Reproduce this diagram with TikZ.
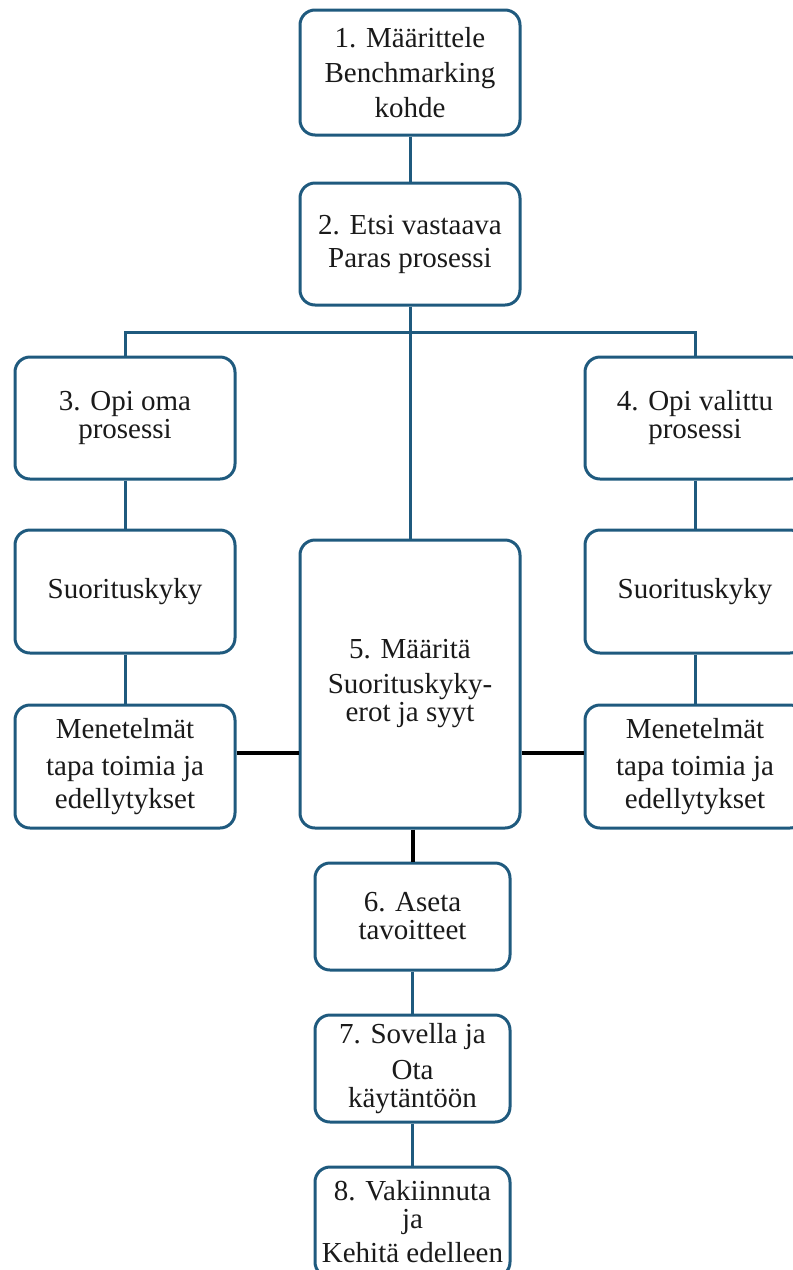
\documentclass[tikz,border=0pt]{standalone}
\usepackage{fontspec}
\setmainfont{Liberation Serif}
\definecolor{boxblue}{HTML}{1F5A7E}
\definecolor{txt}{HTML}{1A1A1A}
\begin{document}
\begin{tikzpicture}[x=1pt,y=-1pt,
  box/.style={draw=boxblue,line width=3pt,rounded corners=15pt,fill=white,
    minimum width=220pt,align=center,text=txt,inner sep=0pt,
    font=\fontsize{29}{35}\selectfont},
  sbox/.style={box,minimum width=195pt},
  link/.style={draw=boxblue,line width=3pt},
  blink/.style={draw=black,line width=4pt}]
\useasboundingbox (0,0) rectangle (793,1270);
\clip (0,0) rectangle (793,1270);
\node[box,minimum height=125pt] (b1) at (410,72.5) {1. Määrittele\\Benchmarking\\kohde};
\node[box,minimum height=122pt] (b2) at (410,244) {2. Etsi vastaava\\[-2pt]Paras prosessi};
\node[box,minimum height=122pt] (b3) at (125,418) {3. Opi oma\\[-7pt]prosessi};
\node[box,minimum height=122pt] (b4) at (695,418) {4. Opi valittu\\[-7pt]prosessi};
\node[box,minimum height=123pt] (sl) at (125,591.5) {Suorituskyky};
\node[box,minimum height=123pt] (sr) at (695,591.5) {Suorituskyky};
\node[box,minimum height=123pt] (ml) at (125,766.5) {Menetelmät\\[2pt]tapa toimia ja\\[-2pt]edellytykset};
\node[box,minimum height=123pt] (mr) at (695,766.5) {Menetelmät\\[2pt]tapa toimia ja\\[-2pt]edellytykset};
\node[box,minimum height=288pt] (b5) at (410,684) {5. Määritä\\Suorituskyky-\\[-7pt]erot ja syyt};
\node[sbox,minimum height=107pt] (b6) at (412.5,916.5) {6. Aseta\\[-7pt]tavoitteet};
\node[sbox,minimum height=107pt] (b7) at (412.5,1068.5) {7. Sovella ja\\[1pt]Ota\\[-7pt]käytäntöön};
\node[sbox,minimum height=110pt] (b8) at (412.5,1222) {8. Vakiinnuta\\[-7pt]ja\\[-1pt]Kehitä edelleen};
\coordinate (hl) at (410,332);
\coordinate (yl) at (0,753);
\draw[link] (b1.south) -- (b2.north);
\draw[link] (b2.south) -- (b5.north);
\draw[link] (b3.north) |- (hl) -| (b4.north);
\draw[link] (b3.south) -- (sl.north);
\draw[link] (sl.south) -- (ml.north);
\draw[link] (b4.south) -- (sr.north);
\draw[link] (sr.south) -- (mr.north);
\draw[blink] (ml.east |- yl) -- (b5.west |- yl);
\draw[blink] (b5.east |- yl) -- (mr.west |- yl);
\draw[blink] (b6.north |- b5.south) -- (b6.north);
\draw[link] (b6.south) -- (b7.north);
\draw[link] (b7.south) -- (b8.north);
\end{tikzpicture}
\end{document}
